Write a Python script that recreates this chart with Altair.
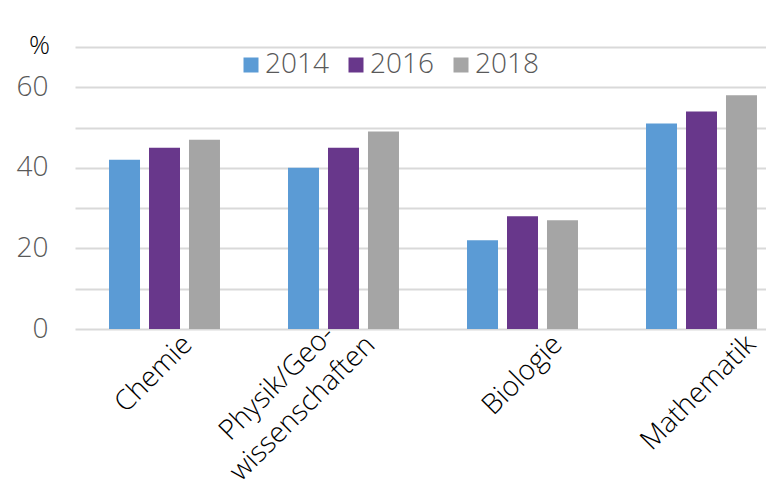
import altair as alt
import pandas as pd

categories = ["Chemie", "Physik/Geo-|wissenschaften", "Biologie", "Mathematik"]
years = ["2014", "2016", "2018"]
v2014 = [42, 40, 22, 51]
v2016 = [45, 45, 28, 54]
v2018 = [47, 49, 27, 58]
colors = ["#5B9BD5", "#68378B", "#A5A5A5"]

rows = []
for yr, vals in zip(years, [v2014, v2016, v2018]):
    for c, v in zip(categories, vals):
        rows.append({"Fach": c, "Jahr": yr, "Wert": v})
df = pd.DataFrame(rows)

FONT = "Open Sans"
FS = 28

label_offset = {"condition": [
    {"test": "datum.value == 'Chemie'", "value": 13.5},
    {"test": "datum.value == 'Biologie'", "value": 25.5},
    {"test": "datum.value == 'Mathematik'", "value": 40},
], "value": -76}
label_padding = {"condition": [
    {"test": "datum.value == 'Chemie'", "value": 1},
    {"test": "datum.value == 'Biologie'", "value": 1},
    {"test": "datum.value == 'Mathematik'", "value": 1},
], "value": 44}
label_align = {"condition": [
    {"test": "indexof(datum.value, '|') >= 0", "value": "center"},
], "value": "right"}

chart = alt.Chart(df).mark_bar().encode(
    x=alt.X("Fach:N", sort=categories,
            scale=alt.Scale(range=[0, 716], paddingInner=0.38, paddingOuter=0.19),
            axis=alt.Axis(title=None, labelAngle=-45, labelFontSize=FS, labelFont=FONT,
                          labelFontWeight=300, labelLimit=0, labelAlign=label_align,
                          labelBaseline="top",
                          labelColor="#000000", labelExpr="split(datum.label, '|')",
                          domain=False, ticks=False, labelPadding=label_padding,
                          labelOffset=label_offset, labelLineHeight=36)),
    xOffset=alt.XOffset("Jahr:N", sort=years, scale=alt.Scale(paddingInner=0.225, paddingOuter=0)),
    y=alt.Y("Wert:Q", scale=alt.Scale(domain=[0, 70], nice=False),
            axis=alt.Axis(values=list(range(0, 80, 10)),
                          labelExpr="datum.value % 20 == 0 ? datum.label : ''",
                          labelFontSize=FS, labelFont=FONT, labelFontWeight=300,
                          labelColor="#595959",
                          labelPadding=27, domain=False, ticks=False,
                          gridColor="#d9d9d9", gridWidth=2,
                          title="%", titleAngle=0, titleX=-36, titleY=-2,
                          titleAlign="center", titleBaseline="middle",
                          titleFontSize=26, titleFontWeight=300, titleFont=FONT,
                          titleColor="#000000")),
    color=alt.Color("Jahr:N", scale=alt.Scale(domain=years, range=colors),
                    legend=alt.Legend(title=None, orient="none", legendX=162, legendY=4,
                                      direction="horizontal", symbolType="square",
                                      symbolSize=225, symbolStrokeWidth=0,
                                      labelFontSize=FS, labelFont=FONT, labelFontWeight=300,
                                      labelColor="#595959",
                                      columnPadding=13, labelOffset=0, padding=0)),
).properties(
    width=691, height=282,
    autosize=alt.AutoSizeParams(type="none"),
    padding={"left": 67, "top": 39, "right": 0, "bottom": 157},
).configure_view(stroke=None)

chart.save("out.html", embed_options={"renderer": "svg", "actions": False})
